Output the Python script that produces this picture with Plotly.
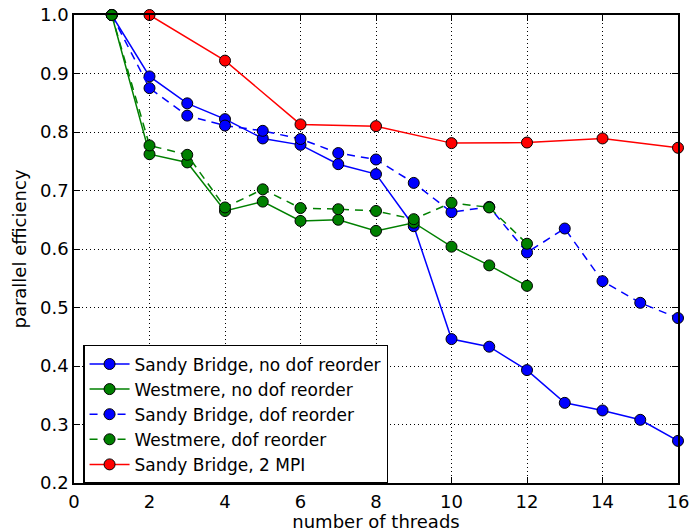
import plotly.graph_objects as go

threads_sb = [1, 2, 3, 4, 5, 6, 7, 8, 9, 10, 11, 12, 13, 14, 15, 16]
threads_wm = [1, 2, 3, 4, 5, 6, 7, 8, 9, 10, 11, 12]
threads_mpi = [2, 4, 6, 8, 10, 12, 14, 16]

sb_no_reorder = [1.0, 0.895, 0.849, 0.822, 0.789, 0.778, 0.745, 0.728, 0.639, 0.446, 0.433, 0.393, 0.337, 0.324, 0.308, 0.272]
wm_no_reorder = [1.0, 0.762, 0.748, 0.665, 0.681, 0.648, 0.650, 0.631, 0.645, 0.604, 0.572, 0.537]
sb_reorder = [1.0, 0.875, 0.828, 0.811, 0.802, 0.788, 0.764, 0.753, 0.713, 0.663, 0.672, 0.594, 0.635, 0.545, 0.508, 0.482]
wm_reorder = [1.0, 0.777, 0.761, 0.671, 0.702, 0.670, 0.668, 0.665, 0.651, 0.679, 0.671, 0.609]
sb_2mpi = [1.0, 0.922, 0.813, 0.810, 0.781, 0.782, 0.789, 0.773]

series = [
    ("Sandy Bridge, no dof reorder", threads_sb, sb_no_reorder, "#0000ff", "solid"),
    ("Westmere, no dof reorder", threads_wm, wm_no_reorder, "#008000", "solid"),
    ("Sandy Bridge, dof reorder", threads_sb, sb_reorder, "#0000ff", "8px,6px"),
    ("Westmere, dof reorder", threads_wm, wm_reorder, "#008000", "8px,6px"),
    ("Sandy Bridge, 2 MPI", threads_mpi, sb_2mpi, "#ff0000", "solid"),
]

fig = go.Figure()
for name, x, y, color, dash in series:
    fig.add_trace(go.Scatter(
        x=x, y=y, name=name, mode="lines+markers",
        line=dict(color=color, width=1.5, dash=dash),
        marker=dict(symbol="circle", size=11, color=color,
                    line=dict(color="black", width=1)),
        cliponaxis=False,
    ))

font = "DejaVu Sans"
axis_common = dict(
    showline=True, linecolor="black", linewidth=1.5, mirror="allticks",
    ticks="inside", ticklen=6, tickcolor="black", tickwidth=1,
    showgrid=True, gridcolor="black", griddash="1px,3px", gridwidth=1,
    zeroline=False, automargin=False, ticklabeloverflow="allow",
    tickfont=dict(family=font, size=18, color="black"),
)

fig.update_layout(
    width=693, height=532,
    margin=dict(l=74, r=15, t=15, b=49),
    paper_bgcolor="white", plot_bgcolor="white",
    font=dict(family=font, color="black"),
    showlegend=True,
    legend=dict(
        x=0.015, y=0.295, xanchor="left", yanchor="top",
        bgcolor="white", bordercolor="black", borderwidth=1.5,
        font=dict(family=font, size=17, color="black"),
        tracegroupgap=0, itemwidth=40,
    ),
    xaxis=dict(range=[0, 16], tickmode="array", tickvals=list(range(0, 17, 2)),
               ticklabelstandoff=2,
               title=dict(text="number of threads", font=dict(family=font, size=18), standoff=2),
               **axis_common),
    yaxis=dict(range=[0.2, 1.0], tickmode="array", tickvals=[0.2, 0.3, 0.4, 0.5, 0.6, 0.7, 0.8, 0.9, 1.0],
               tickformat=".1f",
               title=dict(text="parallel efficiency", font=dict(family=font, size=18), standoff=9),
               **axis_common),
)

# remove the page's default 8px body margin so the 693x532 figure fills the window exactly
fig.write_html(
    "out.html",
    config={"displayModeBar": False},
    post_script="document.body.style.margin='0';document.body.style.overflow='hidden';",
)
